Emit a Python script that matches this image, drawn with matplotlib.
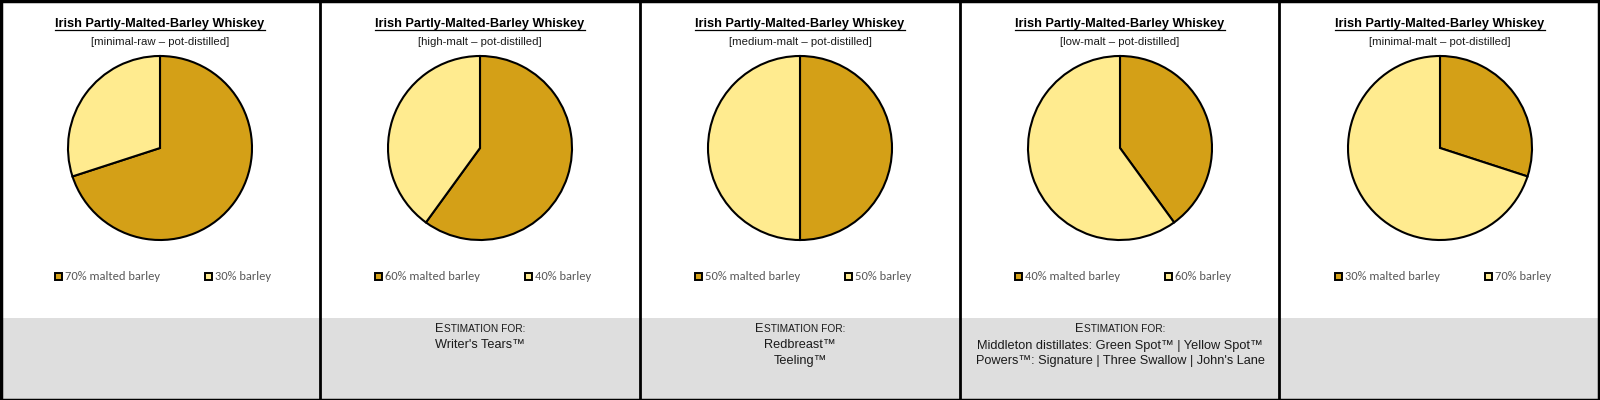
import matplotlib
matplotlib.use("Agg")
import matplotlib.pyplot as plt
from matplotlib import font_manager
from matplotlib.patches import Rectangle
from matplotlib.lines import Line2D

# ---------------- data ----------------
title = "Irish Partly-Malted-Barley Whiskey"
variants = ["minimal-raw", "high-malt", "medium-malt", "low-malt", "minimal-malt"]
categories = ["malted barley", "barley"]
malted = [70, 60, 50, 40, 30]
raw = [30, 40, 50, 60, 70]
estimates = [
    [],
    ["Writer's Tears™"],
    ["Redbreast™", "Teeling™"],
    ["Middleton distillates: Green Spot™ | Yellow Spot™",
     "Powers™: Signature | Three Swallow | John's Lane"],
    [],
]
colors = ["#D4A017", "#FFEB8F"]

# ---------------- fonts ----------------
avail = {f.name for f in font_manager.fontManager.ttflist}
def pick(*names):
    for n in names:
        if n in avail:
            return n
    return "DejaVu Sans"
NARROW = pick("Liberation Sans", "Arimo")
LEG = pick("Carlito", "Calibri", "Lato", "Open Sans")

W, H = 1600, 400
fig = plt.figure(figsize=(16, 4), dpi=100)
fig.patch.set_facecolor("white")

def fx(px):
    return px / W
def fy(py):
    return 1 - py / H

# gray bottom band
fig.add_artist(Rectangle((0, 0), 1, fy(318), transform=fig.transFigure,
                         facecolor="#DEDEDE", edgecolor="none", zorder=0))

PW = 320
R = 92
CY = 148
pad = 1.04
renderer = fig.canvas.get_renderer()
TXT = "#1a1a1a"

for i in range(len(variants)):
    x0 = i * PW
    cx = x0 + PW / 2
    # titles
    t = fig.text(fx(cx), fy(27.5), title, ha="center", va="baseline",
                 fontsize=9.2, fontweight="bold", family=NARROW, color="#000000")
    bb = t.get_window_extent(renderer)
    fig.add_artist(Line2D([bb.x0 / W, bb.x1 / W], [fy(29.6), fy(29.6)],
                          transform=fig.transFigure, color="black", lw=0.9))
    fig.text(fx(cx), fy(45), f"[{variants[i]} – pot-distilled]", ha="center",
             va="baseline", fontsize=8.2, family=NARROW, color=TXT)

    # pie
    s = 2 * R * pad
    ax = fig.add_axes([fx(cx - R * pad), fy(CY + R * pad), s / W, s / H])
    ax.pie([malted[i], raw[i]], colors=colors, startangle=90, counterclock=False,
           radius=1, wedgeprops=dict(edgecolor="black", linewidth=1.5))
    ax.set_xlim(-pad, pad)
    ax.set_ylim(-pad, pad)
    ax.axis("off")

    # legend
    vals = [malted[i], raw[i]]
    for j, lx in enumerate([54, 204]):
        fig.add_artist(Rectangle((fx(x0 + lx + 1), fy(276 + 3.5)), 7 / W, 7 / H,
                                 transform=fig.transFigure, facecolor=colors[j],
                                 edgecolor="black", lw=1.4, zorder=3))
        fig.text(fx(x0 + lx + 11), fy(276.5), f"{vals[j]}% {categories[j]}",
                 ha="left", va="center", fontsize=9, family=LEG, color="#595959")

    # estimation text
    if estimates[i]:
        a = fig.text(0, fy(332), "E", ha="left", va="baseline", fontsize=9.2,
                     family=NARROW, color=TXT)
        b = fig.text(0, fy(332), "STIMATION FOR:", ha="left", va="baseline",
                     fontsize=7.3, family=NARROW, color=TXT)
        wa = a.get_window_extent(renderer).width
        wb = b.get_window_extent(renderer).width
        start = cx - (wa + wb) / 2
        a.set_x(fx(start))
        b.set_x(fx(start + wa))
        for k, line in enumerate(estimates[i]):
            fig.text(fx(cx), fy(348.5 + 15.5 * k), line, ha="center", va="baseline",
                     fontsize=9.2, family=NARROW, color=TXT)

# panel borders
for xb in [320, 640, 960, 1279]:
    fig.add_artist(Line2D([fx(xb), fx(xb)], [0, 1], transform=fig.transFigure,
                          color="black", lw=2.0, zorder=5))
fig.add_artist(Rectangle((0.5 / W, 0.5 / H), 1 - 1.5 / W, 1 - 1.5 / H,
                         transform=fig.transFigure, facecolor="none",
                         edgecolor="black", lw=2.5, zorder=5))

fig.savefig("out.png", dpi=100, facecolor="white")
